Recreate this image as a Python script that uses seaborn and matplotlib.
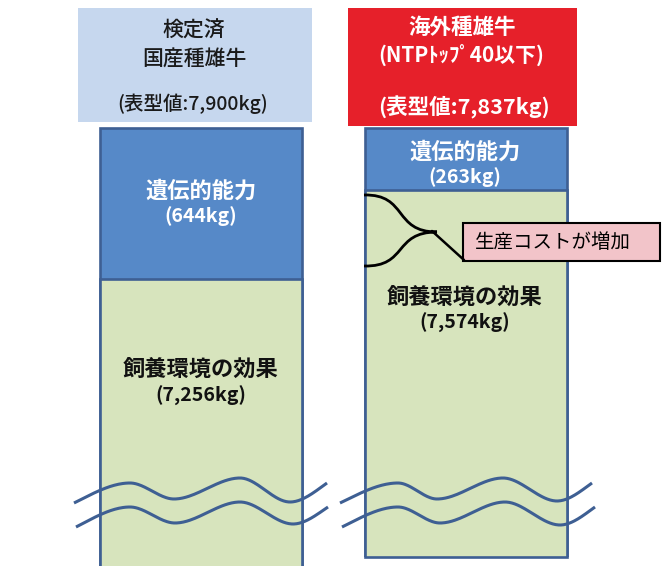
import numpy as np
import pandas as pd
import matplotlib
matplotlib.use("Agg")
import matplotlib.pyplot as plt
import seaborn as sns
from matplotlib.patches import Rectangle, PathPatch
from matplotlib.path import Path

sns.set_theme(style="white")
plt.rcParams["font.family"] = ["Noto Sans CJK JP", "DejaVu Sans"]

# ---- data ----------------------------------------------------------------
groups = ["国産種雄牛", "海外種雄牛"]
phenotype = [7900, 7837]      # 表型値 (kg)
genetic = [644, 263]          # 遺伝的能力 (kg)
environment = [7256, 7574]    # 飼養環境の効果 (kg)
header_title = [["検定済", "国産種雄牛"], ["海外種雄牛", "(NTPﾄｯﾌﾟ40以下)"]]
callout_text = "生産コストが増加"

df = pd.DataFrame({"group": groups, "phenotype": phenotype,
                   "genetic": genetic, "environment": environment})

# ---- styling ---------------------------------------------------------------
W, H = 662, 566
BLUE = "#5689c8"
GREEN = "#d7e4bd"
EDGE = "#3e5f93"
HEAD_BLUE = "#c6d7ee"
HEAD_RED = "#e6202a"
PINK = "#f2c4c9"
PX_PER_KG = 0.236
TOP_PX = 127.5

fig = plt.figure(figsize=(W / 100, H / 100), dpi=100)
fig.patch.set_facecolor("white")


def px_axes(x0, y0, x1, y1):
    return fig.add_axes([x0 / W, 1 - y1 / H, (x1 - x0) / W, (y1 - y0) / H])


# one panel per bull group: (left px, right px, bottom px)
panels = [(81, 321, 566), (345.5, 585.5, 557)]
bar_width = 202 / 240

for i, (x0, x1, yb) in enumerate(panels):
    ax = px_axes(x0, 0, x1, yb)
    sub = df.iloc[[i]]
    # stacked bar: total first, lower segment drawn over it
    sns.barplot(data=sub, x="group", y="phenotype", color=BLUE, saturation=1,
                width=bar_width, edgecolor=EDGE, linewidth=1.9,
                errorbar=None, ax=ax)
    sns.barplot(data=sub, x="group", y="environment", color=GREEN, saturation=1,
                width=bar_width, edgecolor=EDGE, linewidth=1.9,
                errorbar=None, ax=ax)
    top = phenotype[i] + TOP_PX / PX_PER_KG
    bottom = phenotype[i] - (yb - TOP_PX) / PX_PER_KG
    ax.set_ylim(bottom, top)
    ax.set_xlim(-0.5, 0.5)
    ax.axis("off")
    if yb < H:
        bar = ax.patches[-1]
        bx = bar.get_x()
        ax.plot([bx, bx + bar.get_width()], [bottom, bottom], color=EDGE,
                lw=1.9, clip_on=False, solid_capstyle="projecting")

# ---- overlay in pixel space for headers, labels and the break marks --------
ov = fig.add_axes([0, 0, 1, 1])
ov.set_xlim(0, W)
ov.set_ylim(H, 0)
ov.axis("off")
ov.set_zorder(5)
ov.patch.set_alpha(0)

ov.add_patch(Rectangle((78, 8), 234, 114, fc=HEAD_BLUE, ec="none"))
ov.add_patch(Rectangle((348, 8), 229, 118, fc=HEAD_RED, ec="none"))

ov.text(194, 31, header_title[0][0], ha="center", va="center", fontsize=15,
        color="#1a1a1a", fontweight="medium")
ov.text(194, 60, header_title[0][1], ha="center", va="center", fontsize=15,
        color="#1a1a1a", fontweight="medium")
ov.text(193, 104, f"(表型値:{phenotype[0]:,}kg)", ha="center", va="center",
        fontsize=14, color="#1a1a1a", fontweight="medium")

ov.text(462, 27, header_title[1][0], ha="center", va="center", fontsize=15.5,
        color="white", fontweight="bold")
ov.text(461, 55, header_title[1][1], ha="center", va="center", fontsize=15,
        color="white", fontweight="bold")
ov.text(464, 107, f"(表型値:{phenotype[1]:,}kg)", ha="center", va="center",
        fontsize=15.5, color="white", fontweight="bold")

label_pos = [(201, 191, 216, 369, 396), (465, 152, 177, 297, 323)]
for i, (cx, g1, g2, e1, e2) in enumerate(label_pos):
    ov.text(cx, g1, "遺伝的能力", ha="center", va="center", fontsize=16,
            color="white", fontweight="bold")
    ov.text(cx, g2, f"({genetic[i]:,}kg)", ha="center", va="center", fontsize=14,
            color="white", fontweight="bold")
    ov.text(cx, e1, "飼養環境の効果", ha="center", va="center", fontsize=16,
            color="#111111", fontweight="bold")
    ov.text(cx, e2, f"({environment[i]:,}kg)", ha="center", va="center", fontsize=14,
            color="#111111", fontweight="bold")

# brace and callout
brace = Path([(364, 195), (408, 194), (393, 232), (437, 232),
              (393, 232), (408, 267), (364, 266)],
             [Path.MOVETO, Path.CURVE4, Path.CURVE4, Path.CURVE4,
              Path.CURVE4, Path.CURVE4, Path.CURVE4])
ov.add_patch(PathPatch(brace, fc="none", ec="black", lw=2.0))
ov.plot([432, 464], [231, 260], color="black", lw=1.8)
ov.add_patch(Rectangle((463, 223), 197, 38, fc=PINK, ec="black", lw=1.5))
ov.text(475, 243, callout_text, ha="left", va="center", fontsize=14, color="black")


# wavy break marks across each bar
def hermite_wave(pts):
    pts = np.asarray(pts, float)
    x, y = pts[:, 0], pts[:, 1]
    m = np.zeros(len(x))
    m[0] = 1.4 * (y[1] - y[0]) / (x[1] - x[0])
    m[-1] = 1.4 * (y[-1] - y[-2]) / (x[-1] - x[-2])
    xs, ys = [], []
    for k in range(len(x) - 1):
        h = x[k + 1] - x[k]
        t = np.linspace(0, 1, 40)
        h00 = 2 * t**3 - 3 * t**2 + 1
        h10 = t**3 - 2 * t**2 + t
        h01 = -2 * t**3 + 3 * t**2
        h11 = t**3 - t**2
        xs.append(x[k] + t * h)
        ys.append(h00 * y[k] + h10 * h * m[k] + h01 * y[k + 1] + h11 * h * m[k + 1])
    return np.concatenate(xs), np.concatenate(ys)


waves = [
    [(74, 503), (130, 483), (174, 499), (240, 478), (290, 502), (327, 483)],
    [(76, 527), (130, 507), (175, 523), (240, 502), (293, 524), (328, 507)],
    [(340, 503), (398, 483), (437, 499), (503, 478), (557, 501), (592, 483)],
    [(342, 527), (398, 507), (440, 523), (505, 502), (560, 525), (595, 507)],
]
for w in waves:
    wx, wy = hermite_wave(w)
    ov.plot(wx, wy, color=EDGE, lw=2.2, solid_capstyle="butt")

fig.savefig("out.png", dpi=100, facecolor="white")
